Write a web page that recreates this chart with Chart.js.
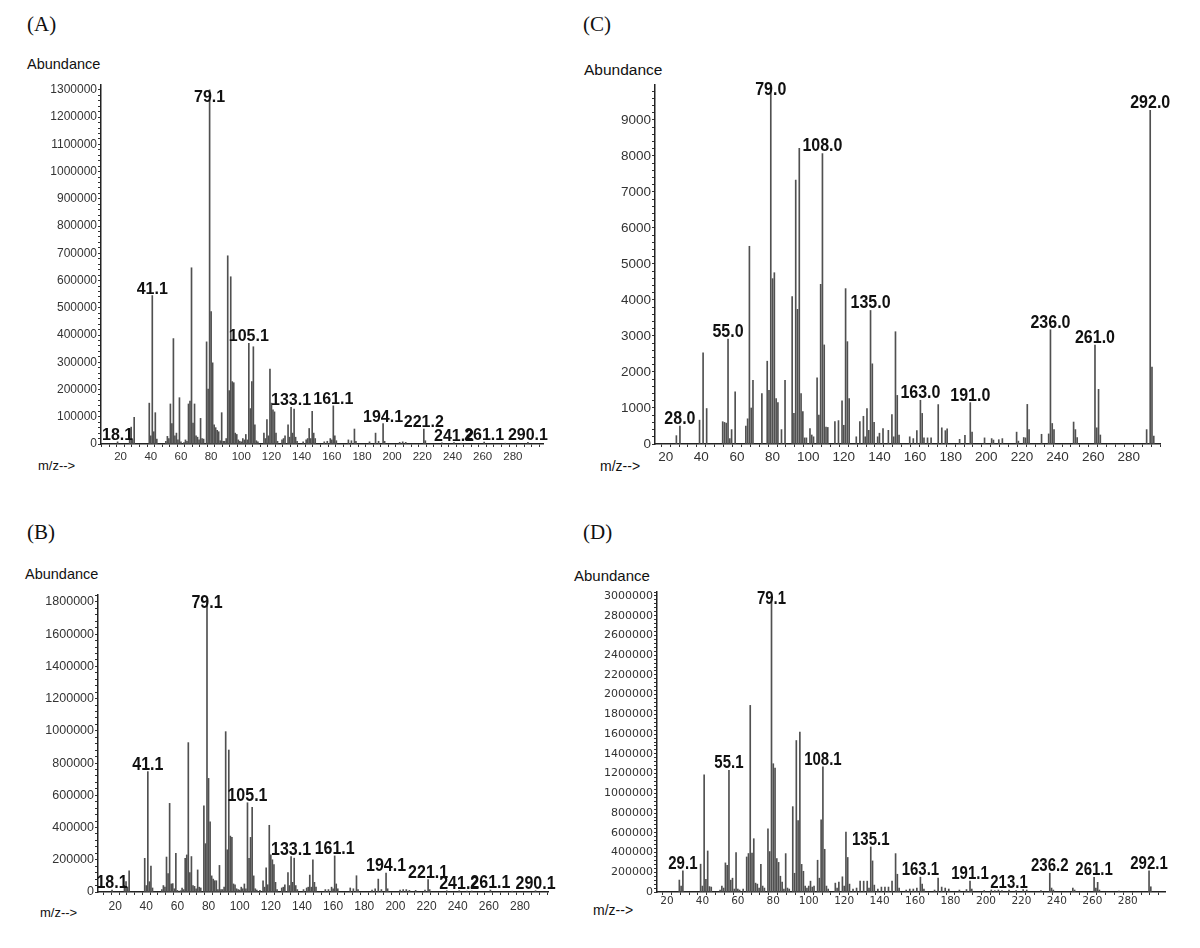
<!DOCTYPE html>
<html>
<head>
<meta charset="utf-8">
<script src="https://cdn.jsdelivr.net/npm/chart.js@4.4.1/dist/chart.umd.min.js"></script>
<style>
  body { margin: 0; background: #fff; width: 1200px; height: 948px; position: relative; overflow: hidden; font-family: Arial, "Liberation Sans", sans-serif; }
  canvas { position: absolute; }
  .t { position: absolute; white-space: nowrap; color: #111; line-height: 1; }
  .panel { font-family: "Liberation Serif", "Times New Roman", serif; font-size: 21px; }
  .ab { font-size: 14.5px; }
  .mz { font-size: 13px; }
</style>
</head>
<body>

<div class="t panel" style="left:27px;top:14px">(A)</div>
<div class="t panel" style="left:27px;top:522px">(B)</div>
<div class="t panel" style="left:583px;top:14px">(C)</div>
<div class="t panel" style="left:583px;top:522px">(D)</div>

<div class="t ab" style="left:27px;top:57px">Abundance</div>
<div class="t ab" style="left:25px;top:567px">Abundance</div>
<div class="t ab" style="left:584px;top:62px;font-size:15.5px">Abundance</div>
<div class="t ab" style="left:574px;top:568px;font-size:15px">Abundance</div>

<div class="t mz" style="left:38px;top:459px">m/z--&gt;</div>
<div class="t mz" style="left:40px;top:906px">m/z--&gt;</div>
<div class="t mz" style="left:600px;top:459px;font-size:14px">m/z--&gt;</div>
<div class="t mz" style="left:593px;top:903px;font-size:14px">m/z--&gt;</div>

<canvas id="specA" width="560" height="420" style="left:0;top:60px"></canvas>
<canvas id="specB" width="560" height="360" style="left:0;top:570px"></canvas>
<canvas id="specC" width="620" height="420" style="left:580px;top:60px"></canvas>
<canvas id="specD" width="620" height="360" style="left:580px;top:570px"></canvas>

<script>
// (A) m/z and abundance
const mzA = [18, 26, 27, 28, 29, 39, 40, 41, 42, 43, 44, 50, 51, 52, 53, 54, 55, 56, 57, 58, 59, 60,
  62, 63, 64, 65, 66, 67, 68, 69, 70, 71, 72, 73, 74, 75, 77, 78, 79, 80, 81, 82, 83, 84, 85, 86, 87, 88,
  89, 90, 91, 92, 93, 94, 95, 96, 97, 98, 99, 100, 101, 102, 103, 104, 105, 106, 107, 108, 109, 110, 111,
  115, 116, 117, 118, 119, 120, 121, 122, 123, 124, 127, 128, 129, 131, 132, 133, 134, 135, 136, 137,
  141, 143, 144, 145, 146, 147, 148, 149, 155, 157, 159, 160, 161, 162, 163, 171, 173, 175, 176,
  185, 189, 191, 194, 195, 205, 207, 209, 221, 222, 233, 241, 246, 261, 275, 290];
const abA = [8000, 55000, 62000, 15000, 98000, 150000, 30000, 545000, 45000, 115000, 18000, 10000, 28000, 20000, 147000, 75000, 387000, 30000, 40000, 15000, 170000, 8000,
  5000, 15000, 10000, 147000, 158000, 647000, 77000, 147000, 30000, 25000, 15000, 94000, 20000, 18000, 375000, 202000, 1300000, 486000, 298000, 70000, 60000, 50000, 45000, 12000, 115000, 10000,
  10000, 20000, 691000, 196000, 614000, 229000, 225000, 40000, 35000, 15000, 10000, 8000, 20000, 15000, 35000, 15000, 370000, 130000, 229000, 357000, 70000, 12000, 8000,
  40000, 20000, 90000, 30000, 275000, 150000, 125000, 118000, 40000, 10000, 15000, 20000, 30000, 70000, 25000, 135000, 40000, 128000, 25000, 10000,
  8000, 15000, 20000, 57000, 20000, 120000, 40000, 20000, 8000, 10000, 20000, 15000, 140000, 30000, 12000, 15000, 12000, 55000, 10000,
  8000, 40000, 10000, 75000, 10000, 6000, 8000, 6000, 55000, 12000, 4000, 5000, 3000, 7000, 3000, 6000];
const peaksA = [18.1, 41.1, 79.1, 105.1, 133.1, 161.1, 194.1, 221.2, 241.2, 261.1, 290.1];

// (B)
const mzB = [18, 26, 27, 28, 29, 39, 40, 41, 42, 43, 44, 50, 51, 52, 53, 54, 55, 56, 57, 58, 59, 60,
  62, 63, 64, 65, 66, 67, 68, 69, 70, 71, 72, 73, 74, 75, 77, 78, 79, 80, 81, 82, 83, 84, 85, 86, 87, 88,
  89, 90, 91, 92, 93, 94, 95, 96, 97, 98, 99, 100, 101, 102, 103, 104, 105, 106, 107, 108, 109, 110, 111,
  113, 115, 116, 117, 118, 119, 120, 121, 122, 123, 124, 127, 128, 129, 131, 132, 133, 134, 135, 136, 137,
  141, 143, 144, 145, 146, 147, 148, 149, 155, 157, 159, 160, 161, 162, 163, 171, 173, 175, 176,
  185, 187, 189, 191, 194, 195, 203, 205, 207, 209, 213, 219, 221, 222, 233, 241, 246, 249, 261, 275, 290];
const abB = [12000, 40000, 64000, 30000, 132000, 209000, 40000, 747000, 64000, 161000, 25000, 15000, 40000, 30000, 217000, 114000, 550000, 50000, 52000, 20000, 240000, 10000,
  8000, 25000, 15000, 209000, 230000, 927000, 120000, 220000, 40000, 35000, 20000, 137000, 30000, 25000, 534000, 300000, 1800000, 705000, 436000, 100000, 80000, 70000, 70000, 15000, 165000, 15000,
  15000, 30000, 995000, 262000, 881000, 347000, 340000, 50000, 45000, 20000, 15000, 12000, 30000, 20000, 50000, 20000, 554000, 209000, 339000, 525000, 100000, 20000, 12000,
  10000, 70000, 30000, 150000, 45000, 414000, 230000, 200000, 170000, 60000, 15000, 25000, 30000, 45000, 120000, 40000, 220000, 60000, 210000, 40000, 15000,
  15000, 25000, 30000, 105000, 30000, 200000, 60000, 30000, 15000, 15000, 30000, 20000, 224000, 50000, 20000, 25000, 20000, 101000, 15000,
  12000, 20000, 80000, 15000, 118000, 20000, 12000, 15000, 15000, 10000, 10000, 12000, 77000, 15000, 8000, 8000, 5000, 6000, 12000, 5000, 8000];
const peaksB = [18.1, 41.1, 79.1, 105.1, 133.1, 161.1, 194.1, 221.1, 241.2, 261.1, 290.1];

// (C)
const mzC = [26, 28, 39, 41, 43, 52, 53, 54, 55, 56, 57, 59, 65, 66, 67, 68, 69, 74, 77, 78, 79, 80, 81, 82, 83, 85, 87,
  91, 92, 93, 94, 95, 96, 97, 98, 99, 101, 102, 103, 105, 106, 107, 108, 109, 110, 111, 115, 117, 119, 120, 121, 122, 123,
  127, 129, 131, 132, 133, 134, 135, 136, 137, 139, 140, 142, 145, 147, 148, 149, 150, 151, 157, 159, 161, 163, 164, 165, 167, 169,
  173, 175, 177, 178, 185, 188, 191, 192, 199, 203, 204, 207, 209, 217, 218, 221, 222, 223, 224, 231, 235, 236, 237, 238,
  249, 250, 251, 261, 262, 263, 264, 290, 292, 293, 294];
const abC = [232, 497, 662, 2531, 985, 620, 600, 580, 2917, 150, 400, 1446, 500, 700, 5492, 1000, 1766, 1400, 2300, 1490, 9950, 4593, 4758, 1260, 1150, 400, 1766,
  4096, 850, 7330, 3740, 8210, 1400, 900, 170, 170, 430, 250, 200, 1840, 800, 4435, 8070, 2752, 470, 460, 620, 650, 1198, 520, 4316, 2843, 1260,
  200, 620, 770, 200, 985, 380, 3709, 2227, 600, 200, 300, 430, 380, 820, 200, 3119, 1350, 250, 200, 150, 370, 1215, 850, 170, 170, 170,
  1095, 450, 370, 420, 130, 240, 1150, 330, 170, 150, 110, 120, 150, 330, 80, 180, 170, 1100, 400, 270, 280, 3174, 570, 400,
  610, 400, 180, 2750, 450, 1518, 250, 400, 9270, 2136, 220];
const peaksC = [28.0, 55.0, 79.0, 108.0, 135.0, 163.0, 191.0, 236.0, 261.0, 292.0];

// (D)
const mzD = [27, 28, 29, 39, 40, 41, 42, 43, 44, 45, 50, 51, 52, 53, 54, 55, 56, 57, 58, 59, 60, 61, 63, 65, 66, 67, 68, 69,
  70, 71, 72, 73, 74, 75, 77, 78, 79, 80, 81, 82, 83, 84, 85, 86, 87, 88, 89, 91, 92, 93, 94, 95, 96, 97, 98, 99, 100,
  101, 102, 103, 105, 106, 107, 108, 109, 110, 111, 115, 116, 117, 119, 120, 121, 122, 123, 125, 127, 129, 131, 133, 134,
  135, 136, 137, 139, 141, 143, 145, 147, 149, 150, 151, 155, 157, 159, 161, 163, 164, 165, 171, 173, 175, 177, 179,
  185, 189, 191, 192, 199, 203, 205, 207, 209, 213, 217, 221, 223, 231, 236, 237, 238, 249, 250, 261, 262, 263, 264, 275, 292, 293];
const abD = [121000, 60000, 214000, 282000, 60000, 1187000, 128000, 416000, 55000, 50000, 20000, 60000, 40000, 295000, 270000, 1234000, 120000, 140000, 30000, 400000, 30000, 20000, 30000, 355000, 390000, 1891000, 395000, 540000,
  90000, 80000, 40000, 280000, 60000, 40000, 641000, 410000, 2970000, 1300000, 1255000, 339000, 300000, 160000, 100000, 30000, 389000, 40000, 30000, 865000, 190000, 1535000, 724000, 1620000, 280000, 210000, 60000, 40000, 60000,
  110000, 50000, 60000, 322000, 140000, 731000, 1268000, 433000, 60000, 30000, 90000, 40000, 100000, 154000, 60000, 607000, 350000, 80000, 30000, 40000, 110000, 110000, 110000, 40000,
  456000, 315000, 70000, 30000, 50000, 50000, 50000, 110000, 389000, 180000, 40000, 20000, 30000, 30000, 40000, 150000, 80000, 30000, 20000, 140000, 50000, 40000, 30000,
  20000, 25000, 110000, 30000, 15000, 20000, 15000, 20000, 15000, 20000, 15000, 25000, 20000, 15000, 190000, 40000, 20000, 40000, 20000, 148000, 40000, 98000, 20000, 10000, 214000, 53000];
const peaksD = [29.1, 55.1, 79.1, 108.1, 135.1, 163.1, 191.1, 213.1, 236.2, 261.1, 292.1];

// peak m/z labels drawn above the bars
const peakLabels = {
  id: 'peakLabels',
  afterDatasetsDraw(chart, args, o) {
    const { ctx, chartArea, scales: { x, y } } = chart;
    const pts = chart.data.datasets[0].data;
    ctx.save();
    ctx.font = 'bold ' + o.size + 'px Arial, "Liberation Sans", sans-serif';
    ctx.fillStyle = '#111';
    ctx.textAlign = 'center';
    ctx.textBaseline = 'alphabetic';
    o.peaks.forEach(p => {
      const m = Math.round(p);
      const pt = pts.find(d => d.x === m);
      const px = x.getPixelForValue(m);
      let py = y.getPixelForValue(pt ? pt.y : 0) - o.gap;
      py = Math.max(py, chartArea.top + o.minDrop);
      ctx.save();
      ctx.translate(px, py);
      ctx.scale(1, o.stretch);
      ctx.fillText(p.toFixed(1), 0, 0);
      ctx.restore();
    });
    ctx.restore();
  }
};

// evenly spaced ticks, built by hand so chart.js doesn't re-space them
function evenTicks(step) {
  return sc => {
    const t = [];
    for (let v = Math.ceil(sc.min / step) * step; v <= sc.max + 1e-9; v += step) t.push({ value: v });
    sc.ticks = t;
  };
}

function spectrum(id, mz, ab, peaks, s) {
  return new Chart(document.getElementById(id), {
    type: 'bar',
    data: {
      datasets: [{
        data: mz.map((m, i) => ({ x: m, y: ab[i] })),
        backgroundColor: '#505050',
        borderWidth: 0,
        barThickness: 1,
        grouped: false
      }]
    },
    options: {
      responsive: false,
      animation: false,
      devicePixelRatio: 1,
      layout: { padding: { top: s.padTop, right: s.padRight, left: 0, bottom: 0 } },
      plugins: {
        legend: { display: false },
        tooltip: { enabled: false },
        peakLabels: { peaks: peaks, size: s.labelSize, stretch: s.stretch, gap: 2, minDrop: s.minDrop }
      },
      scales: {
        x: {
          type: 'linear',
          offset: false,
          min: s.xMin, max: s.xMax,
          afterFit: sc => { sc.height = s.xH; },
          afterBuildTicks: evenTicks(5),
          border: { display: true, color: '#222', width: 1.5 },
          grid: { drawOnChartArea: false, drawTicks: true, tickLength: 3, color: '#333' },
          ticks: {
            autoSkip: false, maxRotation: 0, padding: s.xPad,
            color: '#333', font: { family: s.xFont, size: s.xSize },
            callback: v => (v % 20 === 0 && v <= 280) ? v : ''
          }
        },
        y: {
          min: 0, max: s.yMax,
          afterFit: sc => { sc.width = s.yW; },
          afterBuildTicks: evenTicks(s.minor),
          border: { display: true, color: '#222', width: 1.5 },
          grid: { drawOnChartArea: false, drawTicks: true, tickLength: 3, color: '#333' },
          ticks: {
            autoSkip: false, padding: 1,
            color: '#333', font: { family: s.yFont, size: s.ySize },
            callback: v => (v % s.major === 0) ? v : ''
          }
        }
      }
    },
    plugins: [peakLabels]
  });
}

spectrum('specA', mzA, abA, peaksA, {
  padTop: 25, padRight: 17, yW: 101, xH: 36, xMin: 7, xMax: 300, yMax: 1318000,
  major: 100000, minor: 20000, labelSize: 16, stretch: 1.0, minDrop: 17,
  xPad: 3, xFont: 'Arial', xSize: 11.5, yFont: 'Arial', ySize: 12
});
spectrum('specB', mzB, abB, peaksB, {
  padTop: 25, padRight: 12, yW: 98, xH: 38, xMin: 9, xMax: 298, yMax: 1843000,
  major: 200000, minor: 40000, labelSize: 16, stretch: 1.2, minDrop: 13,
  xPad: 4, xFont: 'Arial', xSize: 12, yFont: 'Arial', ySize: 12.5
});
spectrum('specC', mzC, abC, peaksC, {
  padTop: 25, padRight: 40, yW: 75, xH: 36, xMin: 14, xMax: 297.5, yMax: 9972,
  major: 1000, minor: 200, labelSize: 16, stretch: 1.1, minDrop: 10,
  xPad: 2, xFont: 'Arial', xSize: 13.5, yFont: 'Arial', ySize: 13.5
});
spectrum('specD', mzD, abD, peaksD, {
  padTop: 22, padRight: 35, yW: 77, xH: 38, xMin: 14.4, xMax: 301, yMax: 3040000,
  major: 200000, minor: 40000, labelSize: 15, stretch: 1.25, minDrop: 12,
  xPad: 0, xFont: '"DejaVu Sans"', xSize: 10.5, yFont: '"DejaVu Sans"', ySize: 11
});
</script>
</body>
</html>
